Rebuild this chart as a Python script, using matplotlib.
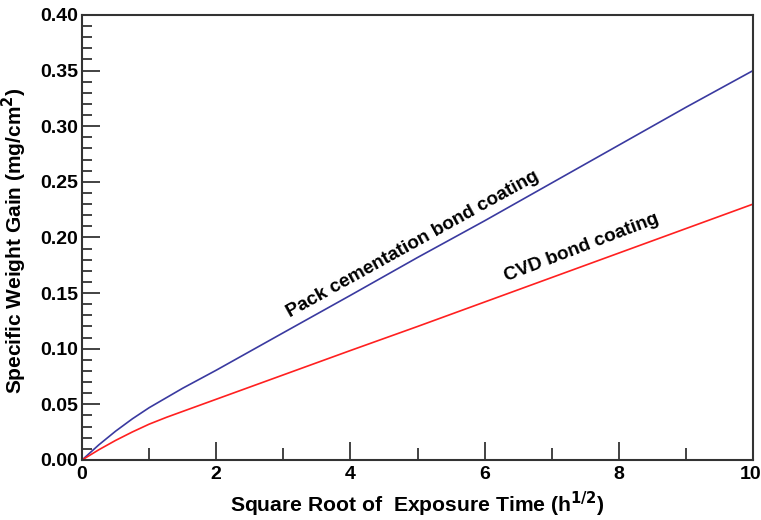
import matplotlib
matplotlib.use("Agg")
import matplotlib.pyplot as plt
import matplotlib.transforms as mtransforms
from matplotlib.ticker import MultipleLocator, FormatStrFormatter

x_pack = [0, 0.25, 0.5, 0.75, 1.0, 1.5, 2, 3, 4, 5, 6, 7, 8, 9, 10]
y_pack = [0, 0.0136, 0.0259, 0.037, 0.047, 0.0645, 0.0807, 0.1144, 0.148, 0.182, 0.215, 0.249, 0.283, 0.317, 0.350]
x_cvd = [0, 0.25, 0.5, 0.75, 1.0, 1.26, 2, 3, 4, 5, 6, 7, 8, 9, 10]
y_cvd = [0, 0.0092, 0.0176, 0.0252, 0.0322, 0.0384, 0.0546, 0.0765, 0.0984, 0.120, 0.142, 0.164, 0.186, 0.208, 0.230]

fig = plt.figure(figsize=(7.61, 5.2), dpi=100)
ax = fig.add_axes([0.1078, 0.1154, 0.8817, 0.8558])
ax.plot(x_pack, y_pack, color="#3a3aa0", lw=1.2)
ax.plot(x_cvd, y_cvd, color="#ff2020", lw=1.2)
ax.set_xlim(0, 10)
ax.set_ylim(0, 0.40)
ax.xaxis.set_major_locator(MultipleLocator(2))
ax.xaxis.set_minor_locator(MultipleLocator(1))
ax.yaxis.set_major_locator(MultipleLocator(0.05))
ax.yaxis.set_minor_locator(MultipleLocator(0.01))
ax.yaxis.set_major_formatter(FormatStrFormatter("%.2f"))
ax.tick_params(which="both", direction="in", top=False, right=False, color="#222222", width=1.2)
ax.tick_params(which="major", length=13, labelsize=14)
ax.tick_params(axis="x", which="major", pad=4)
ax.tick_params(axis="y", which="major", pad=3)
ax.tick_params(which="minor", length=7)
ax.tick_params(axis="x", which="minor", length=9)
for s in ax.spines.values():
    s.set_color("#333333")
    s.set_linewidth(1.5)
for lab in ax.get_xticklabels() + ax.get_yticklabels():
    lab.set_fontweight("bold")
    lab.set_family("Liberation Sans")
# nudge the last x tick label slightly left so it stays inside the canvas
shift = mtransforms.ScaledTranslation(-2.5 / 100, 0, fig.dpi_scale_trans)
fig.canvas.draw()
for tick in ax.xaxis.get_major_ticks():
    if abs(tick.get_loc() - 10) < 1e-9:
        tick.label1.set_transform(tick.label1.get_transform() + shift)
ax.set_xlabel("Square Root of  Exposure Time (h$^{\\mathbf{1/2}}$)", fontsize=15.2, fontweight="bold",
              family="Liberation Sans", labelpad=5)
ax.set_ylabel("Specific Weight Gain (mg/cm$^{\\mathbf{2}}$)", fontsize=15, fontweight="bold",
              family="Liberation Sans")
ax.yaxis.set_label_coords(-0.079, 0.492)
ax.text(4.93, 0.194, "Pack cementation bond coating", rotation=29, fontsize=13.7, fontweight="bold",
        family="Liberation Sans", ha="center", va="center", rotation_mode="anchor")
ax.text(7.45, 0.191, "CVD bond coating", rotation=21, fontsize=13.7, fontweight="bold",
        family="Liberation Sans", ha="center", va="center", rotation_mode="anchor")
fig.savefig("out.png", dpi=100)
